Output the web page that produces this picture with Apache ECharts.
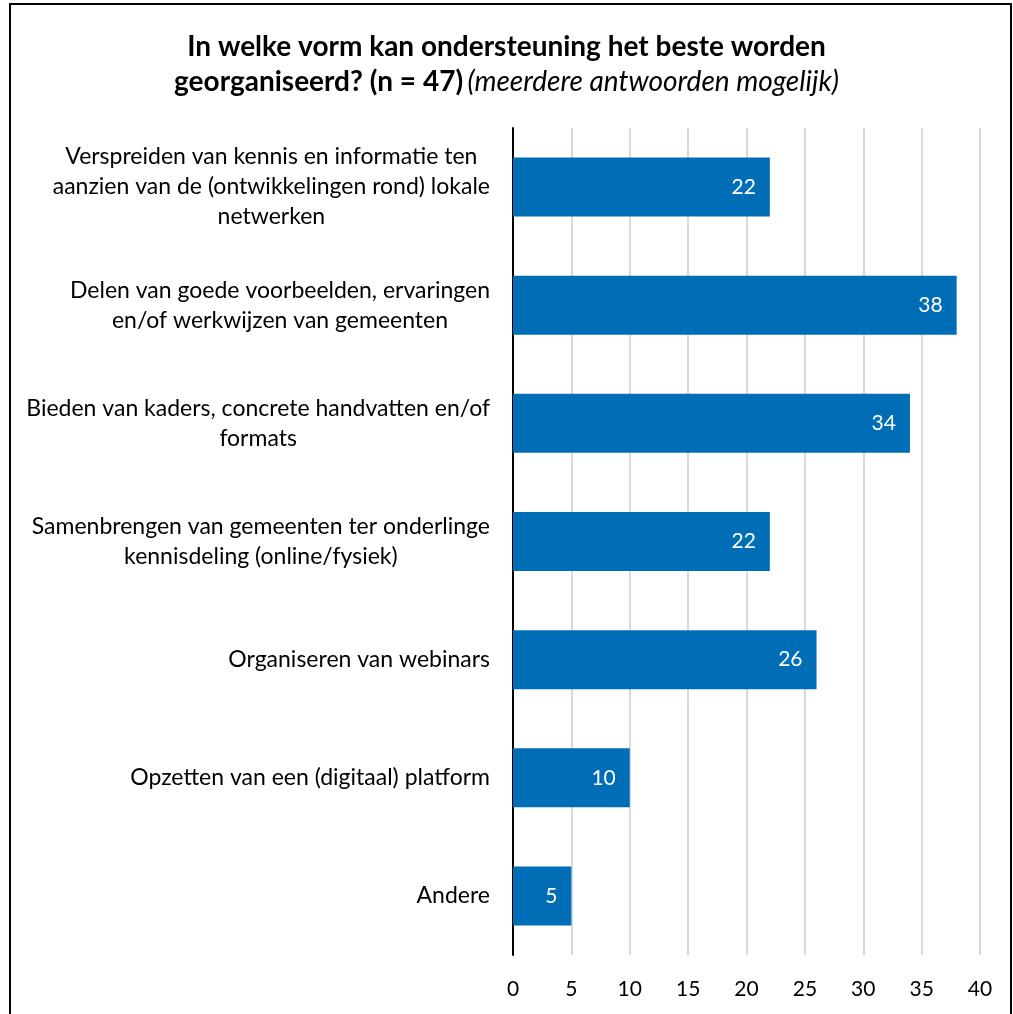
<!DOCTYPE html>
<html>
<head>
<meta charset="utf-8">
<script src="https://cdn.jsdelivr.net/npm/echarts@6/dist/echarts.min.js"></script>
<style>
  html, body { margin: 0; padding: 0; background: #fff; }
  #chart { width: 1013px; height: 1014px; }
</style>
</head>
<body>
<div id="chart"></div>
<script>
// Survey answers: how support for local networks is best organised
const categories = [
  ['Verspreiden van kennis en informatie ten', 'aanzien van de (ontwikkelingen rond) lokale', 'netwerken'],
  ['Delen van goede voorbeelden, ervaringen', 'en/of werkwijzen van gemeenten'],
  ['Bieden van kaders, concrete handvatten en/of', 'formats'],
  ['Samenbrengen van gemeenten ter onderlinge', 'kennisdeling (online/fysiek)'],
  ['Organiseren van webinars'],
  ['Opzetten van een (digitaal) platform'],
  ['Andere']
];
const counts = [22, 38, 34, 22, 26, 10, 5];
const xTicks = [0, 5, 10, 15, 20, 25, 30, 35, 40];

const FONT = 'Lato';
const chart = echarts.init(document.getElementById('chart'));

chart.setOption({
  animation: false,
  backgroundColor: '#ffffff',
  textStyle: { fontFamily: FONT },
  title: {
    left: 'center',
    top: 24,
    text: '{b|In welke vorm kan ondersteuning het beste worden}\n{b|georganiseerd? (n = 47)} {i|(meerdere antwoorden mogelijk)}',
    textStyle: {
      rich: {
        b: { fontFamily: FONT, fontSize: 28, fontWeight: 'bold', color: '#000', lineHeight: 35 },
        i: { fontFamily: FONT, fontSize: 28, fontStyle: 'italic', fontWeight: 'normal', color: '#000', lineHeight: 35 }
      }
    }
  },
  graphic: [{
    type: 'rect',
    shape: { x: 10, y: 4, width: 1001, height: 1030 },
    style: { fill: 'none', stroke: '#000', lineWidth: 2 },
    silent: true
  }],
  grid: { left: 513, right: 33, top: 128, bottom: 59, containLabel: false },
  xAxis: {
    type: 'value',
    min: 0,
    max: 40,
    interval: 5,
    axisLine: { show: false },
    axisTick: { show: false },
    axisLabel: {
      color: '#000',
      fontSize: 21,
      fontFamily: FONT,
      margin: 24,
      formatter: v => (xTicks.includes(v) ? String(v) : '')
    },
    splitLine: { show: true, lineStyle: { color: '#d9d9d9', width: 2 } }
  },
  yAxis: {
    type: 'category',
    inverse: true,
    data: categories.map(lines => lines.join('\n')),
    axisLine: { show: true, lineStyle: { color: '#000', width: 2 } },
    axisTick: { show: false },
    axisLabel: {
      margin: 23,
      color: '#000',
      fontSize: 23,
      fontFamily: FONT,
      formatter: v => v.split('\n').map(l => '{c|' + l + '}').join('\n'),
      rich: {
        c: { align: 'center', fontSize: 23, fontFamily: FONT, color: '#000', lineHeight: 30 }
      }
    }
  },
  series: [{
    type: 'bar',
    data: counts,
    barWidth: 59,
    itemStyle: { color: '#006eb6' },
    label: {
      show: true,
      position: 'insideRight',
      distance: 14,
      color: '#fff',
      fontSize: 21,
      fontFamily: FONT
    }
  }]
});
</script>
</body>
</html>
